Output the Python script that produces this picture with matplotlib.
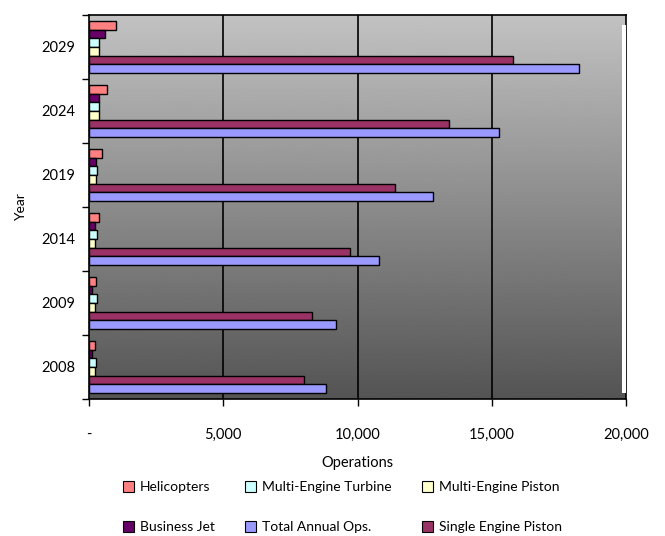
import matplotlib
matplotlib.use("Agg")
import matplotlib.pyplot as plt
from matplotlib.patches import Rectangle, Patch
from matplotlib.ticker import FuncFormatter
import numpy as np

years = ["2008", "2009", "2014", "2019", "2024", "2029"]

# values per year (2008 .. 2029)
helicopters = [230, 270, 390, 500, 660, 1000]
business_jet = [100, 100, 240, 270, 370, 610]
me_turbine = [270, 280, 280, 300, 370, 380]
me_piston = [230, 230, 210, 270, 370, 380]
single_piston = [7990, 8310, 9720, 11410, 13420, 15780]
total_ops = [8830, 9210, 10790, 12800, 15280, 18250]

series = [
    ("Helicopters", helicopters, "#ff8080"),
    ("Business Jet", business_jet, "#660066"),
    ("Multi-Engine Turbine", me_turbine, "#ccffff"),
    ("Multi-Engine Piston", me_piston, "#ffffcc"),
    ("Single Engine Piston", single_piston, "#993366"),
    ("Total Annual Ops.", total_ops, "#9999ff"),
]

plt.rcParams['font.family'] = ['Lato', 'DejaVu Sans']
plt.rcParams['font.size'] = 10

fig = plt.figure(figsize=(6.65, 5.36), dpi=100)
ax = fig.add_axes([89 / 665, 1 - 399 / 536, 537 / 665, 384 / 536])

# gradient background
grad = np.linspace(0.33, 0.76, 256).reshape(-1, 1)
ax.imshow(grad, cmap="gray", vmin=0, vmax=1, extent=[0, 1, 0, 1], origin="lower",
          transform=ax.transAxes, aspect="auto", zorder=0)

y = np.arange(len(years))
h = 0.135
for k, (name, vals, col) in enumerate(series):
    off = (2.5 - k) * h
    ax.barh(y + off, vals, height=h, color=col, edgecolor="black", linewidth=1.0,
            zorder=3, label=name)

for gx in [5000, 10000, 15000]:
    ax.axvline(gx, color="black", lw=1.2, zorder=1)

ax.set_xlim(0, 20000)
ax.set_ylim(-0.5, 5.5)
ax.set_xticks([0, 5000, 10000, 15000, 20000])
ax.xaxis.set_major_formatter(FuncFormatter(lambda v, p: "-" if v == 0 else f"{int(v):,}"))
ax.tick_params(axis="x", length=5, width=1, pad=16, direction="out", labelsize=10.5)
ax.set_yticks(y)
ax.set_yticklabels(years)
ax.set_yticks(np.arange(-0.5, 6, 1), minor=True)
ax.tick_params(axis="y", which="major", length=0, pad=10, labelsize=10.5)
ax.tick_params(axis="y", which="minor", length=5, width=1)

for s in ax.spines.values():
    s.set_color("black")
    s.set_linewidth(1.2)

# white strip on right edge
ax.add_patch(Rectangle((0.9926, 0.0156), 0.0074, 0.958, transform=ax.transAxes,
                       facecolor="white", edgecolor="none", zorder=4, clip_on=False))

ax.set_xlabel("Operations", labelpad=10, fontsize=10.5)
ax.set_ylabel("Year", labelpad=10, fontsize=10)

handles = [Patch(facecolor=c, edgecolor="black", linewidth=0.8) for _, _, c in series]
order = [0, 1, 2, 5, 3, 4]
fig.legend([handles[i] for i in order], [series[i][0] for i in order],
           loc="center", bbox_to_anchor=(0.515, 0.054), ncol=3, frameon=False,
           handlelength=0.8, handleheight=0.8, handletextpad=0.4,
           columnspacing=2.2, labelspacing=2.0, fontsize=10)

fig.savefig("out.png", dpi=100)
